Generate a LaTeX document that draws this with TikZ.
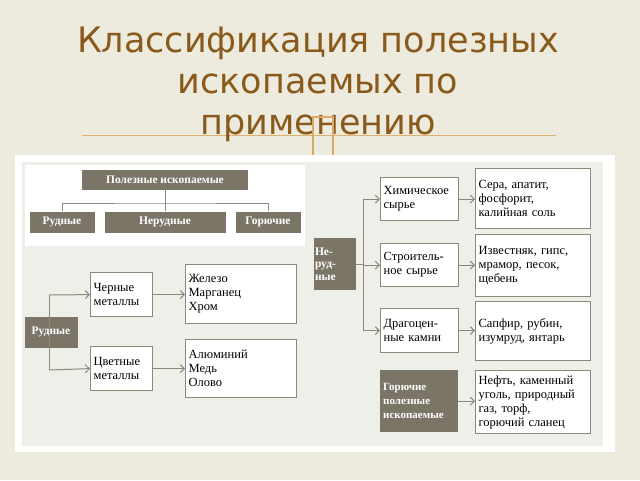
\documentclass[tikz,border=0pt]{standalone}
\usepackage{fontspec}
\setmainfont{Liberation Serif}
\newfontfamily\titlefont{DejaVu Sans}
\usetikzlibrary{arrows.meta}
\definecolor{bg}{HTML}{ECEBDD}
\definecolor{tbrown}{HTML}{8A5A1C}
\definecolor{gbox}{HTML}{7A7566}
\definecolor{ln}{HTML}{8C887A}
\definecolor{panel}{HTML}{EFEFEA}
\definecolor{orl}{HTML}{E0B070}
\begin{document}
\begin{tikzpicture}[x=1pt,y=-1pt,
 gray/.style={draw=none,fill=gbox,text=white,font=\bfseries\fontsize{11.5}{12.5}\selectfont,inner sep=1pt,align=center},
 grayl/.style={gray,align=left},
 wb/.style={draw=ln,line width=1.2pt,fill=white,font=\fontsize{12.5}{14}\selectfont,align=left,inner xsep=3pt,inner ysep=2pt,anchor=north west},
 con/.style={draw=ln,line width=1pt},
 arr/.style={con,-{Straight Barb[length=4pt,width=8pt]}}]
\useasboundingbox (0,0) rectangle (640,480);
\fill[bg] (0,0) rectangle (640,480);
\draw[orl,line width=0.8pt] (82,135) -- (556,135);
\node[text=tbrown,font=\titlefont\fontsize{35}{41}\selectfont,align=center] (title) at (318,84) {Классификация полезных\\ископаемых по\\применению};
\draw[orl!85!brown,line width=1.2pt] (313,155) -- (313,117) -- (333,117) -- (333,155);
\fill[white] (15,155) rectangle (615,452);
\fill[panel] (22,162) rectangle (603,446);
\fill[white] (25,165) rectangle (305,246);
% top panel
\node[gray,minimum width=166pt,minimum height=20pt] (pi) at (165,180) {Полезные ископаемые};
\node[gray,minimum width=65pt,minimum height=21pt] (r) at (62,222) {Рудные};
\node[gray,minimum width=121pt,minimum height=21pt] (n) at (165,222) {Нерудные};
\node[gray,minimum width=65pt,minimum height=21pt] (g) at (268,222) {Горючие};
\coordinate (j) at (165,203);
\draw[con] (pi.south) -- (j);
\draw[con] (r.north) |- (j) -| (g.north);
\draw[con] (j) -- (n.north);
% left
\node[gray,minimum width=53pt,minimum height=31pt] (rl) at (51,332) {Рудные};
\node[wb,text width=56pt,minimum height=44pt] (cm) at (90,272) {Черные\\металлы};
\node[wb,text width=56pt,minimum height=44pt] (cv) at (90,346) {Цветные\\металлы};
\node[wb,text width=105pt,minimum height=59pt] (fe) at (185,264) {Железо\\Марганец\\Хром};
\node[wb,text width=105pt,minimum height=58pt] (al) at (185,339) {Алюминий\\Медь\\Олово};
\coordinate (lt) at (49,295); \coordinate (lb) at (49,370);
\draw[con] (lt) -- (lb);
\draw[arr] (lt) -- (cm.west);
\draw[arr] (lb) -- (cv.west);
\draw[arr] (cm.east) -- (cm.east -| fe.west);
\draw[arr] (cv.east) -- (cv.east -| al.west);
% right
\node[grayl,text width=40pt,minimum height=52pt] (nr) at (335,264) {Не-\\руд-\\ные};
\node[wb,text width=72pt,minimum height=43pt] (h) at (380,177) {Химическое\\сырье};
\node[wb,text width=72pt,minimum height=43pt] (s) at (380,243) {Строитель-\\ное сырье};
\node[wb,text width=72pt,minimum height=44pt] (d) at (380,308) {Драгоцен-\\ные камни};
\node[grayl,font=\bfseries\fontsize{11}{14}\selectfont,text width=72pt,minimum height=62pt,anchor=north west,inner xsep=3pt] (gp) at (380,370) {Горючие\\полезные\\ископаемые};
\node[wb,text width=109pt,minimum height=60pt] (h2) at (475,168) {Сера, апатит,\\фосфорит,\\калийная соль};
\node[wb,text width=109pt,minimum height=62pt] (s2) at (475,234) {Известняк, гипс,\\мрамор, песок,\\щебень};
\node[wb,text width=109pt,minimum height=59pt] (d2) at (475,301) {Сапфир, рубин,\\изумруд, янтарь};
\node[wb,text width=109pt,minimum height=63pt] (g2) at (475,370) {Нефть, каменный\\уголь, природный\\газ, торф,\\горючий сланец};
\coordinate (vx) at (363,0);
\draw[con] (h.west -| vx) -- (d.west -| vx);
\draw[con] (nr.east) -- (nr.east -| vx);
\draw[arr] (h.west -| vx) -- (h.west);
\draw[arr] (s.west -| vx) -- (s.west);
\draw[arr] (d.west -| vx) -- (d.west);
\draw[arr] (h.east) -- (h.east -| h2.west);
\draw[arr] (s.east) -- (s.east -| s2.west);
\draw[arr] (d.east) -- (d.east -| d2.west);
\draw[arr] (gp.east) -- (gp.east -| g2.west);
\end{tikzpicture}
\end{document}
